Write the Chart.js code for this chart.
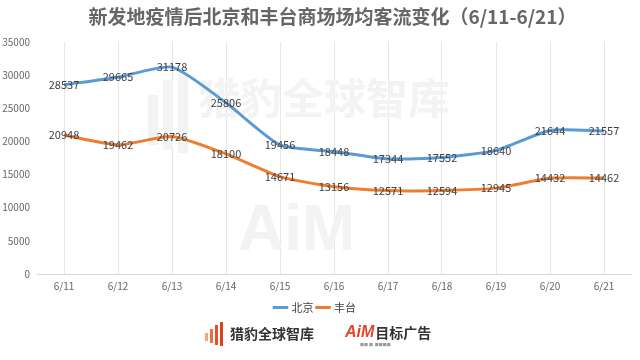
<!DOCTYPE html>
<html><head><meta charset="utf-8">
<script src="https://cdn.jsdelivr.net/npm/chart.js@4/dist/chart.umd.min.js"></script>
<style>html,body{margin:0;padding:0;background:#fff}#wrap{width:640px;height:360px}</style>
</head><body><div id="wrap"><canvas id="c" width="640" height="360"></canvas></div>
<script>
const categories = ['6/11','6/12','6/13','6/14','6/15','6/16','6/17','6/18','6/19','6/20','6/21'];
const beijing = [28537,29665,31178,25806,19456,18448,17344,17552,18640,21644,21557];
const fengtai = [20948,19462,20726,18100,14671,13156,12571,12594,12945,14432,14462];
const seriesNames = ['北京','丰台'];
const titleText = '新发地疫情后北京和丰台商场场均客流变化（6/11-6/21）';
const FONT = '"Noto Sans CJK SC", "Noto Sans", sans-serif';

const shiftTitle = {
  id:'shiftTitle',
  afterLayout(chart){
    if (chart.titleBlock){ chart.titleBlock.left += 17; chart.titleBlock.right += 17; }
  }
};
const watermark = {
  id:'watermark',
  beforeDatasetsDraw(chart){
    const ctx = chart.ctx; ctx.save();
    ctx.fillStyle = '#f3f3f3';
    const bars = [[148,95,10,50],[163,80,10,70],[178,68,10,85]];
    bars.forEach(b=>ctx.fillRect(b[0],b[1],b[2],b[3]));
    ctx.font = 'bold 42px ' + FONT;
    ctx.textBaseline='middle'; ctx.textAlign='left';
    ctx.fillText('猎豹全球智库', 198, 98);
    ctx.font = 'bold 64px "Liberation Sans", sans-serif';
    ctx.fillText('AiM', 238, 232);
    ctx.restore();
  }
};
const labelsPlugin = {
  id:'pointLabels',
  afterDatasetsDraw(chart){
    const ctx = chart.ctx; ctx.save();
    ctx.font = '11px ' + FONT; ctx.fillStyle = '#404040';
    ctx.textAlign='center'; ctx.textBaseline='middle';
    chart.data.datasets.forEach((ds,i)=>{
      chart.getDatasetMeta(i).data.forEach((pt,j)=>{
        ctx.fillText(String(ds.data[j]), pt.x, pt.y);
      });
    });
    ctx.restore();
  }
};
const logos = {
  id:'logos',
  afterDraw(chart){
    const ctx = chart.ctx; ctx.save();
    const cols = ['#f4a27e','#ec6f3f','#e2502a','#d9441f'];
    const bars = [[205,333,3,8],[210,329,3,14],[215,325,3,20],[220,322,3,24]];
    bars.forEach((b,i)=>{ctx.fillStyle=cols[i];ctx.fillRect(b[0],b[1],b[2],b[3]);});
    ctx.fillStyle='#333'; ctx.font='bold 14px ' + FONT;
    ctx.textBaseline='middle'; ctx.textAlign='left';
    ctx.fillText('猎豹全球智库', 230, 334);
    ctx.font='bold italic 16px "Liberation Sans", sans-serif';
    ctx.fillStyle='#e5462b';
    ctx.fillText('AiM', 345, 333);
    const w = ctx.measureText('AiM').width;
    ctx.fillStyle='#333'; ctx.font='bold 14px ' + FONT;
    ctx.fillText('目标广告', 345+w+1, 333);
    ctx.fillStyle='#999'; ctx.font='4px ' + FONT;
    ctx.fillText('■■ ■  ■■■■', 360, 345);
    ctx.restore();
  }
};

new Chart(document.getElementById('c'), {
  type:'line',
  data:{labels:categories, datasets:[
    {label:seriesNames[0], data:beijing, borderColor:'#5b9bd5', backgroundColor:'#5b9bd5', borderWidth:3, pointRadius:0, tension:0.2},
    {label:seriesNames[1], data:fengtai, borderColor:'#ed7d31', backgroundColor:'#ed7d31', borderWidth:3, pointRadius:0, tension:0.2}
  ]},
  options:{
    responsive:false, animation:false, devicePixelRatio:1,
    layout:{padding:{left:0,right:9,top:0,bottom:37}},
    plugins:{
      title:{display:true, text:titleText, color:'#666666', font:{family:FONT,size:19,weight:'bold'}, padding:{top:5,bottom:14}},
      legend:{position:'bottom', labels:{color:'#404040', font:{family:FONT,size:11}, usePointStyle:true, pointStyle:'line', boxWidth:13, padding:4}},
      tooltip:{enabled:false}
    },
    scales:{
      x:{offset:true, grid:{offset:false, color:'#e6e6e6', drawTicks:false}, border:{color:'#d9d9d9'}, ticks:{color:'#666666', font:{family:FONT,size:10}, padding:6}},
      y:{min:0,max:35000, afterFit:(s)=>{s.width=37;}, ticks:{stepSize:5000, color:'#666666', font:{family:FONT,size:10}, padding:7, callback:(v)=>String(v)}, grid:{display:false, drawTicks:false}, border:{display:false}}
    }
  },
  plugins:[shiftTitle, watermark, labelsPlugin, logos]
});
</script></body></html>
